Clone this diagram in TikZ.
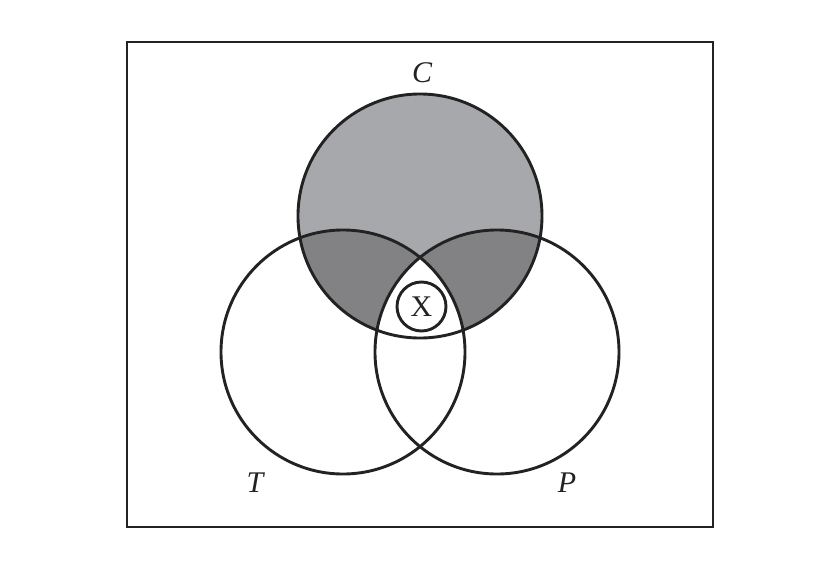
\documentclass[tikz,border=0pt]{standalone}
\usepackage{fontspec}
\setmainfont{Liberation Serif}
\definecolor{lightsh}{HTML}{A7A8AC}
\definecolor{darksh}{HTML}{828284}
\definecolor{ink}{HTML}{222222}
\tikzset{
  setline/.style={draw=ink, line width=2.9pt},
  setlabel/.style={font=\fontsize{30}{30}\selectfont\itshape, text=ink},
}
\begin{document}
\begin{tikzpicture}[x=1pt,y=-1pt]
\useasboundingbox (0,0) rectangle (840,570);
\fill[white] (0,0) rectangle (840,570);
% centres
\coordinate (cC) at (420,216);
\coordinate (cT) at (343,352);
\coordinate (cP) at (497,352);
% shading
\fill[lightsh] (cC) circle (122);
\begin{scope}
  \clip (cC) circle (122);
  \fill[darksh] (cT) circle (122);
  \fill[darksh] (cP) circle (122);
  \begin{scope}
    \clip (cT) circle (122);
    \clip (cP) circle (122);
    \fill[white] (cC) circle (122);
  \end{scope}
\end{scope}
% outlines
\draw[setline] (127,42) rectangle (713,527);
\draw[setline] (cC) circle (122);
\draw[setline] (cT) circle (122);
\draw[setline] (cP) circle (122);
% X
\node[circle, setline, fill=white, minimum size=49pt, inner sep=0pt,
      font=\fontsize{30}{30}\selectfont, text=ink] (X) at (421.5,306.5) {X};
% labels
\node[setlabel] (lC) at (422,73) {C};
\node[setlabel] (lT) at (255,483) {T};
\node[setlabel] (lP) at (567,483) {P};
\end{tikzpicture}
\end{document}
